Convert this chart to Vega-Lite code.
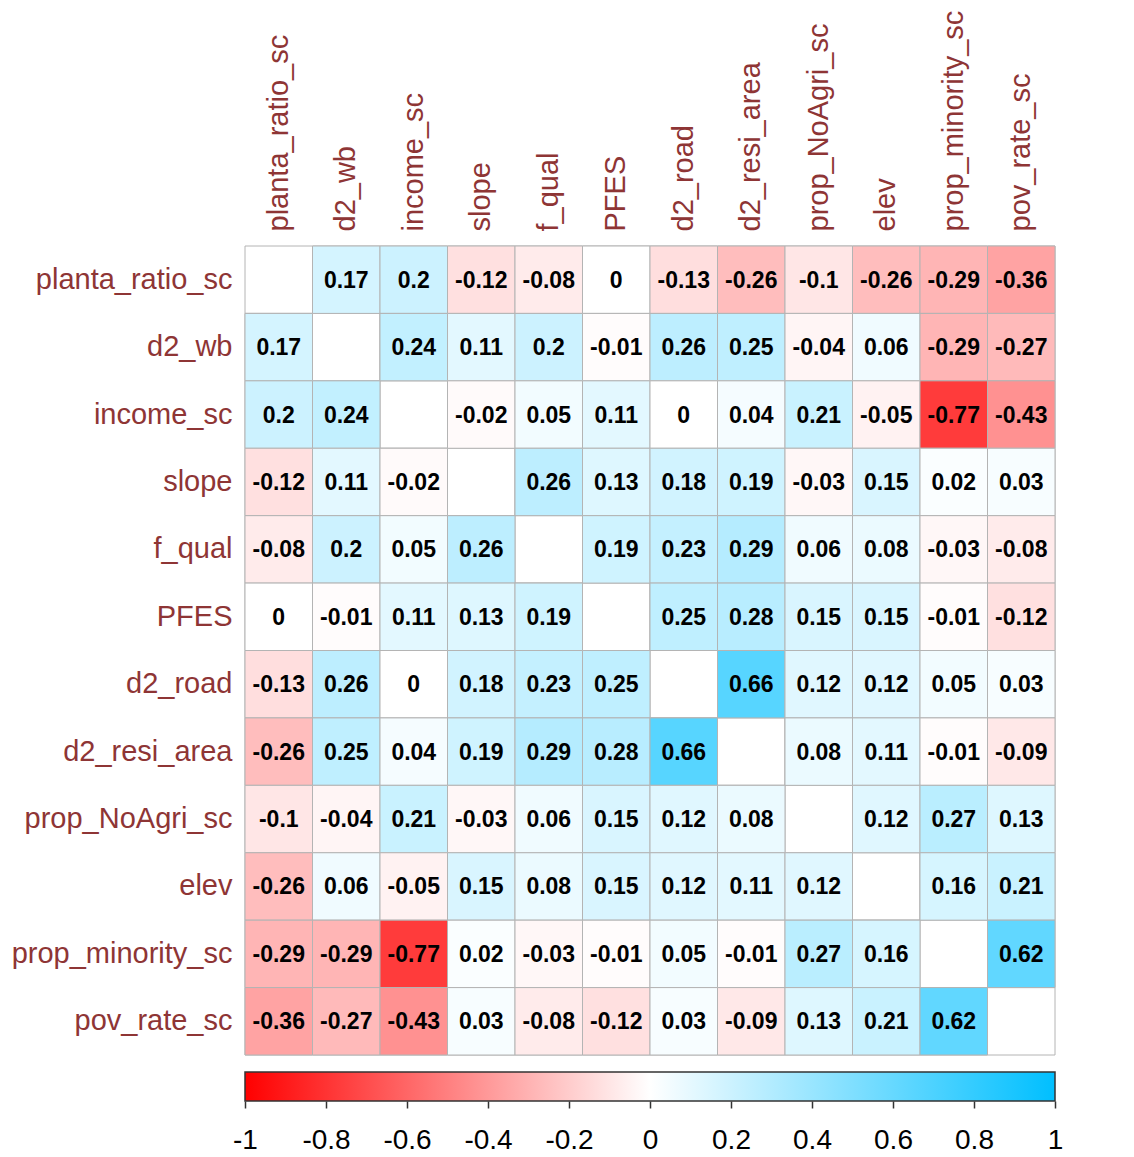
{
  "$schema": "https://vega.github.io/schema/vega-lite/v6.json",
  "background": "white",
  "padding": 5,
  "spacing": 15,
  "config": {"view": {"stroke": null}, "font": "Liberation Sans"},
  "datasets": {
    "cells": [
      {"row":"planta_ratio_sc","col":"planta_ratio_sc","r":null},{"row":"planta_ratio_sc","col":"d2_wb","r":0.17},{"row":"planta_ratio_sc","col":"income_sc","r":0.2},{"row":"planta_ratio_sc","col":"slope","r":-0.12},{"row":"planta_ratio_sc","col":"f_qual","r":-0.08},{"row":"planta_ratio_sc","col":"PFES","r":0},{"row":"planta_ratio_sc","col":"d2_road","r":-0.13},{"row":"planta_ratio_sc","col":"d2_resi_area","r":-0.26},{"row":"planta_ratio_sc","col":"prop_NoAgri_sc","r":-0.1},{"row":"planta_ratio_sc","col":"elev","r":-0.26},{"row":"planta_ratio_sc","col":"prop_minority_sc","r":-0.29},{"row":"planta_ratio_sc","col":"pov_rate_sc","r":-0.36},
      {"row":"d2_wb","col":"planta_ratio_sc","r":0.17},{"row":"d2_wb","col":"d2_wb","r":null},{"row":"d2_wb","col":"income_sc","r":0.24},{"row":"d2_wb","col":"slope","r":0.11},{"row":"d2_wb","col":"f_qual","r":0.2},{"row":"d2_wb","col":"PFES","r":-0.01},{"row":"d2_wb","col":"d2_road","r":0.26},{"row":"d2_wb","col":"d2_resi_area","r":0.25},{"row":"d2_wb","col":"prop_NoAgri_sc","r":-0.04},{"row":"d2_wb","col":"elev","r":0.06},{"row":"d2_wb","col":"prop_minority_sc","r":-0.29},{"row":"d2_wb","col":"pov_rate_sc","r":-0.27},
      {"row":"income_sc","col":"planta_ratio_sc","r":0.2},{"row":"income_sc","col":"d2_wb","r":0.24},{"row":"income_sc","col":"income_sc","r":null},{"row":"income_sc","col":"slope","r":-0.02},{"row":"income_sc","col":"f_qual","r":0.05},{"row":"income_sc","col":"PFES","r":0.11},{"row":"income_sc","col":"d2_road","r":0},{"row":"income_sc","col":"d2_resi_area","r":0.04},{"row":"income_sc","col":"prop_NoAgri_sc","r":0.21},{"row":"income_sc","col":"elev","r":-0.05},{"row":"income_sc","col":"prop_minority_sc","r":-0.77},{"row":"income_sc","col":"pov_rate_sc","r":-0.43},
      {"row":"slope","col":"planta_ratio_sc","r":-0.12},{"row":"slope","col":"d2_wb","r":0.11},{"row":"slope","col":"income_sc","r":-0.02},{"row":"slope","col":"slope","r":null},{"row":"slope","col":"f_qual","r":0.26},{"row":"slope","col":"PFES","r":0.13},{"row":"slope","col":"d2_road","r":0.18},{"row":"slope","col":"d2_resi_area","r":0.19},{"row":"slope","col":"prop_NoAgri_sc","r":-0.03},{"row":"slope","col":"elev","r":0.15},{"row":"slope","col":"prop_minority_sc","r":0.02},{"row":"slope","col":"pov_rate_sc","r":0.03},
      {"row":"f_qual","col":"planta_ratio_sc","r":-0.08},{"row":"f_qual","col":"d2_wb","r":0.2},{"row":"f_qual","col":"income_sc","r":0.05},{"row":"f_qual","col":"slope","r":0.26},{"row":"f_qual","col":"f_qual","r":null},{"row":"f_qual","col":"PFES","r":0.19},{"row":"f_qual","col":"d2_road","r":0.23},{"row":"f_qual","col":"d2_resi_area","r":0.29},{"row":"f_qual","col":"prop_NoAgri_sc","r":0.06},{"row":"f_qual","col":"elev","r":0.08},{"row":"f_qual","col":"prop_minority_sc","r":-0.03},{"row":"f_qual","col":"pov_rate_sc","r":-0.08},
      {"row":"PFES","col":"planta_ratio_sc","r":0},{"row":"PFES","col":"d2_wb","r":-0.01},{"row":"PFES","col":"income_sc","r":0.11},{"row":"PFES","col":"slope","r":0.13},{"row":"PFES","col":"f_qual","r":0.19},{"row":"PFES","col":"PFES","r":null},{"row":"PFES","col":"d2_road","r":0.25},{"row":"PFES","col":"d2_resi_area","r":0.28},{"row":"PFES","col":"prop_NoAgri_sc","r":0.15},{"row":"PFES","col":"elev","r":0.15},{"row":"PFES","col":"prop_minority_sc","r":-0.01},{"row":"PFES","col":"pov_rate_sc","r":-0.12},
      {"row":"d2_road","col":"planta_ratio_sc","r":-0.13},{"row":"d2_road","col":"d2_wb","r":0.26},{"row":"d2_road","col":"income_sc","r":0},{"row":"d2_road","col":"slope","r":0.18},{"row":"d2_road","col":"f_qual","r":0.23},{"row":"d2_road","col":"PFES","r":0.25},{"row":"d2_road","col":"d2_road","r":null},{"row":"d2_road","col":"d2_resi_area","r":0.66},{"row":"d2_road","col":"prop_NoAgri_sc","r":0.12},{"row":"d2_road","col":"elev","r":0.12},{"row":"d2_road","col":"prop_minority_sc","r":0.05},{"row":"d2_road","col":"pov_rate_sc","r":0.03},
      {"row":"d2_resi_area","col":"planta_ratio_sc","r":-0.26},{"row":"d2_resi_area","col":"d2_wb","r":0.25},{"row":"d2_resi_area","col":"income_sc","r":0.04},{"row":"d2_resi_area","col":"slope","r":0.19},{"row":"d2_resi_area","col":"f_qual","r":0.29},{"row":"d2_resi_area","col":"PFES","r":0.28},{"row":"d2_resi_area","col":"d2_road","r":0.66},{"row":"d2_resi_area","col":"d2_resi_area","r":null},{"row":"d2_resi_area","col":"prop_NoAgri_sc","r":0.08},{"row":"d2_resi_area","col":"elev","r":0.11},{"row":"d2_resi_area","col":"prop_minority_sc","r":-0.01},{"row":"d2_resi_area","col":"pov_rate_sc","r":-0.09},
      {"row":"prop_NoAgri_sc","col":"planta_ratio_sc","r":-0.1},{"row":"prop_NoAgri_sc","col":"d2_wb","r":-0.04},{"row":"prop_NoAgri_sc","col":"income_sc","r":0.21},{"row":"prop_NoAgri_sc","col":"slope","r":-0.03},{"row":"prop_NoAgri_sc","col":"f_qual","r":0.06},{"row":"prop_NoAgri_sc","col":"PFES","r":0.15},{"row":"prop_NoAgri_sc","col":"d2_road","r":0.12},{"row":"prop_NoAgri_sc","col":"d2_resi_area","r":0.08},{"row":"prop_NoAgri_sc","col":"prop_NoAgri_sc","r":null},{"row":"prop_NoAgri_sc","col":"elev","r":0.12},{"row":"prop_NoAgri_sc","col":"prop_minority_sc","r":0.27},{"row":"prop_NoAgri_sc","col":"pov_rate_sc","r":0.13},
      {"row":"elev","col":"planta_ratio_sc","r":-0.26},{"row":"elev","col":"d2_wb","r":0.06},{"row":"elev","col":"income_sc","r":-0.05},{"row":"elev","col":"slope","r":0.15},{"row":"elev","col":"f_qual","r":0.08},{"row":"elev","col":"PFES","r":0.15},{"row":"elev","col":"d2_road","r":0.12},{"row":"elev","col":"d2_resi_area","r":0.11},{"row":"elev","col":"prop_NoAgri_sc","r":0.12},{"row":"elev","col":"elev","r":null},{"row":"elev","col":"prop_minority_sc","r":0.16},{"row":"elev","col":"pov_rate_sc","r":0.21},
      {"row":"prop_minority_sc","col":"planta_ratio_sc","r":-0.29},{"row":"prop_minority_sc","col":"d2_wb","r":-0.29},{"row":"prop_minority_sc","col":"income_sc","r":-0.77},{"row":"prop_minority_sc","col":"slope","r":0.02},{"row":"prop_minority_sc","col":"f_qual","r":-0.03},{"row":"prop_minority_sc","col":"PFES","r":-0.01},{"row":"prop_minority_sc","col":"d2_road","r":0.05},{"row":"prop_minority_sc","col":"d2_resi_area","r":-0.01},{"row":"prop_minority_sc","col":"prop_NoAgri_sc","r":0.27},{"row":"prop_minority_sc","col":"elev","r":0.16},{"row":"prop_minority_sc","col":"prop_minority_sc","r":null},{"row":"prop_minority_sc","col":"pov_rate_sc","r":0.62},
      {"row":"pov_rate_sc","col":"planta_ratio_sc","r":-0.36},{"row":"pov_rate_sc","col":"d2_wb","r":-0.27},{"row":"pov_rate_sc","col":"income_sc","r":-0.43},{"row":"pov_rate_sc","col":"slope","r":0.03},{"row":"pov_rate_sc","col":"f_qual","r":-0.08},{"row":"pov_rate_sc","col":"PFES","r":-0.12},{"row":"pov_rate_sc","col":"d2_road","r":0.03},{"row":"pov_rate_sc","col":"d2_resi_area","r":-0.09},{"row":"pov_rate_sc","col":"prop_NoAgri_sc","r":0.13},{"row":"pov_rate_sc","col":"elev","r":0.21},{"row":"pov_rate_sc","col":"prop_minority_sc","r":0.62},{"row":"pov_rate_sc","col":"pov_rate_sc","r":null}
    ]
  },
  "vconcat": [
    {
      "width": 810,
      "height": 809,
      "data": {"name": "cells"},
      "encoding": {
        "x": {
          "field": "col", "type": "nominal", "sort": null,
          "scale": {"paddingInner": 0, "paddingOuter": 0},
          "axis": {"orient": "top", "title": null, "labelAngle": -90, "ticks": false, "domain": false,
                   "labelPadding": 15, "labelFontSize": 29, "labelColor": "#8E3535", "labelFont": "Liberation Sans", "minExtent": 241, "labelLimit": 0}
        },
        "y": {
          "field": "row", "type": "nominal", "sort": null,
          "scale": {"paddingInner": 0, "paddingOuter": 0},
          "axis": {"title": null, "ticks": false, "domain": false,
                   "labelPadding": 13, "labelFontSize": 29, "labelColor": "#8E3535", "labelFont": "Liberation Sans", "minExtent": 240, "labelLimit": 0}
        }
      },
      "layer": [
        {"mark": {"type": "rect", "fill": "white", "stroke": "#B4B4B4", "strokeWidth": 1}},
        {
          "transform": [{"filter": "datum.r != null"}],
          "mark": {"type": "rect", "stroke": "#B4B4B4", "strokeWidth": 1},
          "encoding": {
            "color": {"field": "r", "type": "quantitative", "legend": null,
                      "scale": {"domain": [-1, 0, 1], "range": ["#FF0000", "#FFFFFF", "#00BFFF"], "interpolate": "rgb"}}
          }
        },
        {
          "transform": [{"filter": "datum.r != null"}],
          "mark": {"type": "text", "fontSize": 23, "fontWeight": "bold", "color": "black", "font": "Liberation Sans", "baseline": "middle", "align": "center", "dy": 1},
          "encoding": {"text": {"field": "r", "type": "nominal"}}
        }
      ]
    },
    {
      "width": 810,
      "height": 29,
      "data": {"values": [{"lo": -1, "hi": 1}]},
      "mark": {
        "type": "rect",
        "stroke": "#333333",
        "strokeWidth": 1.5,
        "fill": {"gradient": "linear", "x1": 0, "x2": 1, "y1": 0, "y2": 0,
                 "stops": [{"offset": 0, "color": "#FF0000"}, {"offset": 0.5, "color": "#FFFFFF"}, {"offset": 1, "color": "#00BFFF"}]}
      },
      "encoding": {
        "x": {
          "field": "lo", "type": "quantitative",
          "scale": {"domain": [-1, 1], "nice": false, "zero": false},
          "axis": {"title": null, "values": [-1, -0.8, -0.6, -0.4, -0.2, 0, 0.2, 0.4, 0.6, 0.8, 1],
                   "labelExpr": "'' + datum.value", "domain": false, "grid": false,
                   "tickSize": 7, "tickWidth": 1.5, "tickColor": "#333333",
                   "labelFontSize": 28, "labelColor": "black", "labelFont": "Liberation Sans",
                   "labelPadding": 18, "labelFlush": false, "labelOverlap": false}
        },
        "x2": {"field": "hi"}
      }
    }
  ]
}
